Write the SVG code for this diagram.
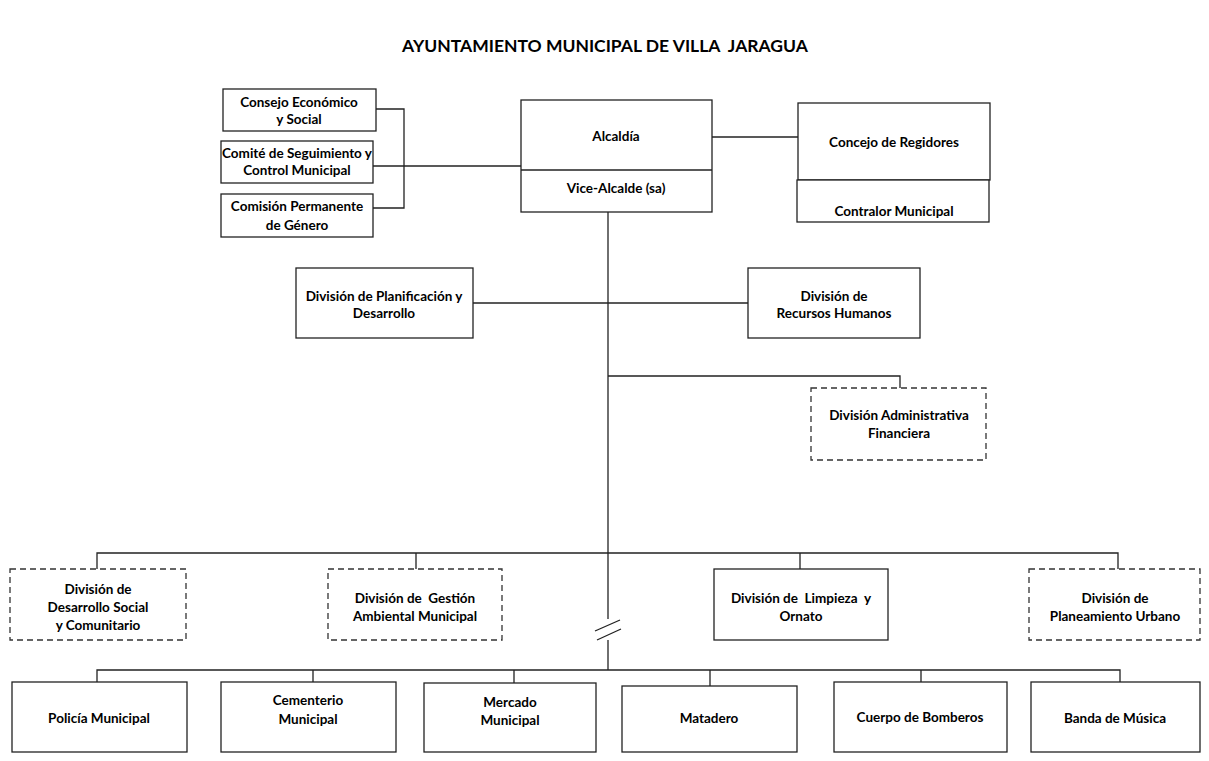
<svg xmlns="http://www.w3.org/2000/svg" width="1209" height="761" viewBox="0 0 1209 761">
<style>
.b{fill:#fff;stroke:#222;stroke-width:1.3}
.d{fill:#fff;stroke:#333;stroke-width:1.3;stroke-dasharray:6 4}
.t{font-family:Lato,"Liberation Sans",sans-serif;font-weight:bold;font-size:13.5px;fill:#000;text-anchor:middle}
.c{fill:none;stroke:#222;stroke-width:1.3}
</style>
<rect width="1209" height="761" fill="#fff"/>
<text x="605" y="52" style="font-family:Lato,'Liberation Sans',sans-serif;font-weight:bold;font-size:17.5px;fill:#000;text-anchor:middle" xml:space="preserve">AYUNTAMIENTO MUNICIPAL DE VILLA  JARAGUA</text>
<g id="connectors">
<path class="c" d="M376,109 H404 V208 H373"/>
<path class="c" d="M373,166 H521"/>
<path class="c" d="M712,137 H798"/>
<path class="c" d="M608,212 V619"/>
<path class="c" d="M608,640 V670"/>
<path class="c" d="M595,631 L620,620 M597,640 L621,629"/>
<path class="c" d="M473,303 H748"/>
<path class="c" d="M608,376 H900 V388"/>
<path class="c" d="M97,569 V553 H1118 V569 M416,553 V569 M800,553 V569"/>
<path class="c" d="M97,682 V670 H1120 V682 M313,670 V682 M514,670 V683 M710,670 V686 M921,670 V682"/>
</g>
<g id="consejo"><rect class="b" x="223" y="89" width="153" height="42"/><text class="t" x="299" y="107">Consejo Económico</text><text class="t" x="299" y="124">y Social</text></g>
<g id="comite"><rect class="b" x="221" y="141" width="152" height="42"/><text class="t" x="297" y="158">Comité de Seguimiento y</text><text class="t" x="297" y="175">Control Municipal</text></g>
<g id="comision"><rect class="b" x="221" y="194" width="152" height="43"/><text class="t" x="297" y="211">Comisión Permanente</text><text class="t" x="297" y="230">de Género</text></g>
<g id="alcaldia"><rect class="b" x="521" y="100" width="191" height="112"/><line class="c" x1="521" y1="170" x2="712" y2="170"/><text class="t" x="616" y="141">Alcaldía</text><text class="t" x="616" y="193">Vice-Alcalde (sa)</text></g>
<g id="concejo"><rect class="b" x="798" y="103" width="192" height="77"/><text class="t" x="894" y="147">Concejo de Regidores</text></g>
<g id="contralor"><rect class="b" x="797" y="180" width="192" height="42"/><text class="t" x="894" y="216">Contralor Municipal</text></g>
<g id="planificacion"><rect class="b" x="296" y="268" width="177" height="70"/><text class="t" x="384" y="301">División de Planificación y</text><text class="t" x="384" y="318">Desarrollo</text></g>
<g id="rrhh"><rect class="b" x="748" y="268" width="172" height="70"/><text class="t" x="834" y="301">División de</text><text class="t" x="834" y="318">Recursos Humanos</text></g>
<g id="financiera"><rect class="d" x="811" y="388" width="175" height="72"/><text class="t" x="899" y="420">División Administrativa</text><text class="t" x="899" y="438">Financiera</text></g>
<g id="desarrollo-social"><rect class="d" x="10" y="569" width="176" height="71"/><text class="t" x="98" y="594">División de</text><text class="t" x="98" y="612">Desarrollo Social</text><text class="t" x="98" y="630">y Comunitario</text></g>
<g id="gestion-ambiental"><rect class="d" x="328" y="569" width="174" height="71"/><text class="t" x="415" y="603" xml:space="preserve">División de  Gestión</text><text class="t" x="415" y="621">Ambiental Municipal</text></g>
<g id="limpieza"><rect class="b" x="714" y="569" width="174" height="71"/><text class="t" x="801" y="603" xml:space="preserve">División de  Limpieza  y</text><text class="t" x="801" y="621">Ornato</text></g>
<g id="planeamiento"><rect class="d" x="1029" y="569" width="171" height="71"/><text class="t" x="1115" y="603">División de</text><text class="t" x="1115" y="621">Planeamiento Urbano</text></g>
<g id="policia"><rect class="b" x="12" y="682" width="175" height="70"/><text class="t" x="99" y="723">Policía Municipal</text></g>
<g id="cementerio"><rect class="b" x="221" y="682" width="175" height="70"/><text class="t" x="308" y="705">Cementerio</text><text class="t" x="308" y="724">Municipal</text></g>
<g id="mercado"><rect class="b" x="424" y="683" width="172" height="69"/><text class="t" x="510" y="707">Mercado</text><text class="t" x="510" y="725">Municipal</text></g>
<g id="matadero"><rect class="b" x="622" y="686" width="175" height="66"/><text class="t" x="709" y="723">Matadero</text></g>
<g id="bomberos"><rect class="b" x="834" y="682" width="173" height="70"/><text class="t" x="920" y="722">Cuerpo de Bomberos</text></g>
<g id="banda"><rect class="b" x="1031" y="682" width="169" height="70"/><text class="t" x="1115" y="723">Banda de Música</text></g>
</svg>
